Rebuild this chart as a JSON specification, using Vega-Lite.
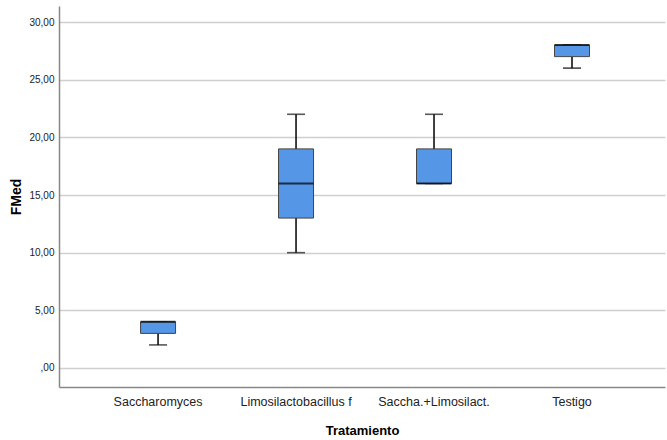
{
  "$schema": "https://vega.github.io/schema/vega-lite/v6.json",
  "width": 606,
  "height": 381,
  "autosize": {"type": "none"},
  "padding": {"left": 59, "top": 6, "right": 2, "bottom": 53},
  "background": "white",
  "config": {
    "view": {"stroke": null},
    "font": "Liberation Sans",
    "axis": {"labelFont": "Liberation Sans", "titleFont": "Liberation Sans"}
  },
  "data": {
    "values": [
      {"Tratamiento": "Saccharomyces", "min": 2, "q1": 3, "median": 4, "q3": 4, "max": 4},
      {"Tratamiento": "Limosilactobacillus f", "min": 10, "q1": 13, "median": 16, "q3": 19, "max": 22},
      {"Tratamiento": "Saccha.+Limosilact.", "min": 16, "q1": 16, "median": 16, "q3": 19, "max": 22},
      {"Tratamiento": "Testigo", "min": 26, "q1": 27, "median": 28, "q3": 28, "max": 28}
    ]
  },
  "encoding": {
    "x": {
      "field": "Tratamiento",
      "type": "nominal",
      "sort": null,
      "scale": {"type": "band", "paddingInner": 0, "paddingOuter": 0.196, "align": 0.556},
      "axis": {
        "title": "Tratamiento",
        "titleFontSize": 13,
        "titleFontWeight": "bold",
        "titleColor": "#000",
        "titlePadding": 17,
        "labelFontSize": 12.5,
        "labelColor": "#222",
        "labelAngle": 0,
        "labelPadding": 8,
        "ticks": false,
        "domainColor": "#888",
        "domainWidth": 1.5,
        "grid": false
      }
    }
  },
  "layer": [
    {
      "mark": {"type": "rule", "color": "#111", "strokeWidth": 1.6},
      "encoding": {
        "y": {
          "field": "min",
          "type": "quantitative",
          "scale": {"domain": [-1.65, 31.39], "nice": false, "zero": false},
          "axis": {
            "title": "FMed",
            "titleFontSize": 14,
            "titleFontWeight": "bold",
            "titleColor": "#000",
            "titlePadding": 5,
            "values": [0, 5, 10, 15, 20, 25, 30],
            "labelExpr": "datum.value == 0 ? ',00' : replace(format(datum.value, '.2f'), '.', ',')",
            "labelFontSize": 10,
            "labelColor": "#222",
            "labelPadding": 5,
            "ticks": false,
            "domainColor": "#888",
            "domainWidth": 1.5,
            "grid": true,
            "gridColor": "#cfcfcf",
            "gridWidth": 1.5
          }
        },
        "y2": {"field": "q1"}
      }
    },
    {
      "mark": {"type": "rule", "color": "#111", "strokeWidth": 1.6},
      "encoding": {
        "y": {"field": "q3", "type": "quantitative"},
        "y2": {"field": "max"}
      }
    },
    {
      "mark": {"type": "tick", "orient": "horizontal", "size": 18, "thickness": 1.6, "color": "#111"},
      "encoding": {"y": {"field": "min", "type": "quantitative"}}
    },
    {
      "mark": {"type": "tick", "orient": "horizontal", "size": 18, "thickness": 1.6, "color": "#111"},
      "encoding": {"y": {"field": "max", "type": "quantitative"}}
    },
    {
      "mark": {"type": "bar", "size": 35, "fill": "#5596E6", "stroke": "#444", "strokeWidth": 1},
      "encoding": {
        "y": {"field": "q1", "type": "quantitative"},
        "y2": {"field": "q3"}
      }
    },
    {
      "mark": {"type": "tick", "orient": "horizontal", "size": 35, "thickness": 2, "color": "#000"},
      "encoding": {"y": {"field": "median", "type": "quantitative"}}
    }
  ]
}
